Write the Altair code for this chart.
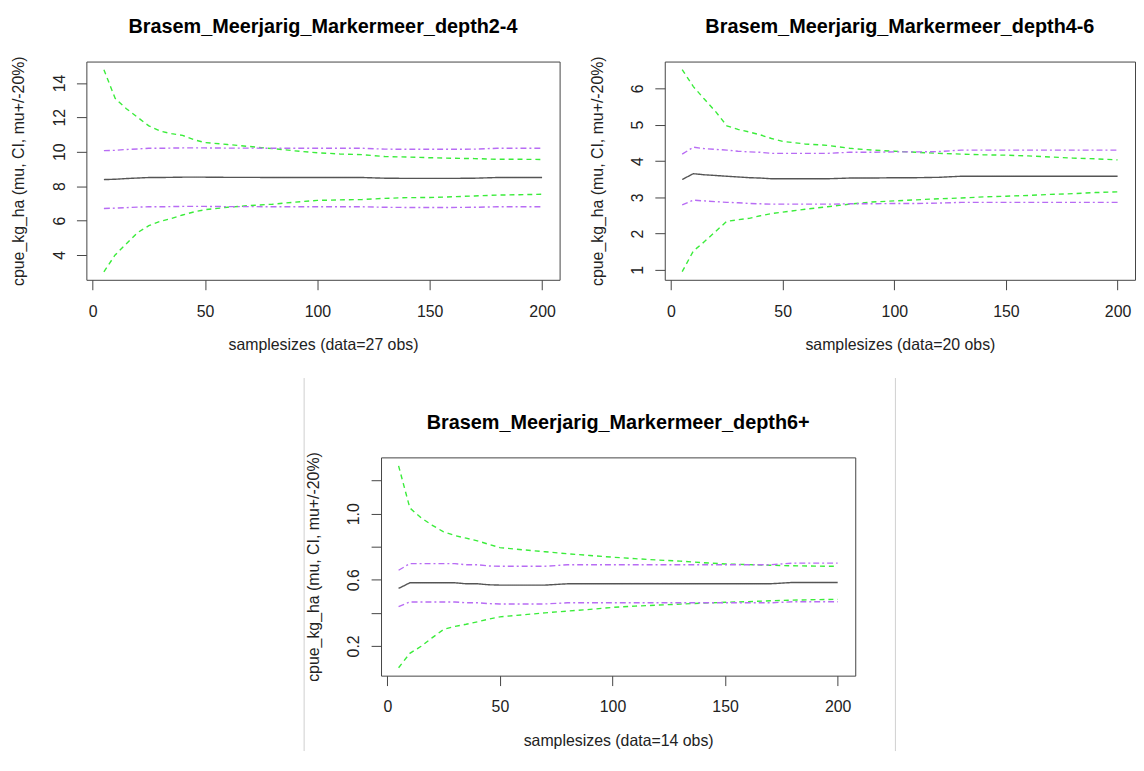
import altair as alt
import pandas as pd

FONT = "Liberation Sans"

SAMPLESIZES = [5, 10, 15, 20, 25, 30, 35, 40, 45, 50, 60, 70, 80, 90, 100,
               110, 120, 130, 140, 150, 160, 170, 180, 190, 200]

SERIES = ["mu", "ci_lo", "ci_hi", "pm_lo", "pm_hi"]

# ---- panel 1: depth2-4 ----
P1_TITLE = "Brasem_Meerjarig_Markermeer_depth2-4"
P1_XTITLE = "samplesizes (data=27 obs)"
P1_MU = [8.38, 8.40, 8.44, 8.47, 8.50, 8.50, 8.51, 8.52, 8.52, 8.52, 8.51, 8.51, 8.50,
         8.50, 8.50, 8.50, 8.50, 8.46, 8.45, 8.45, 8.45, 8.46, 8.50, 8.50, 8.50]
P1_CI_HI = [14.77, 13.10, 12.50, 12.00, 11.50, 11.20, 11.05, 10.95, 10.70, 10.53, 10.42,
            10.30, 10.18, 10.05, 9.94, 9.87, 9.83, 9.72, 9.69, 9.65, 9.62, 9.60, 9.56,
            9.56, 9.55]
P1_CI_LO = [3.02, 4.00, 4.65, 5.30, 5.70, 5.95, 6.12, 6.32, 6.50, 6.63, 6.77, 6.87, 6.95,
            7.07, 7.17, 7.20, 7.22, 7.29, 7.33, 7.34, 7.38, 7.43, 7.48, 7.50, 7.53]
P1_PM_HI = [10.06, 10.08, 10.13, 10.16, 10.20, 10.20, 10.21, 10.22, 10.22, 10.22, 10.21,
            10.21, 10.20, 10.20, 10.20, 10.20, 10.20, 10.15, 10.14, 10.14, 10.14, 10.15,
            10.20, 10.20, 10.20]
P1_PM_LO = [6.70, 6.72, 6.75, 6.78, 6.80, 6.80, 6.81, 6.82, 6.82, 6.82, 6.81, 6.81, 6.80,
            6.80, 6.80, 6.80, 6.80, 6.77, 6.76, 6.76, 6.76, 6.77, 6.80, 6.80, 6.80]
P1_YDOMAIN = [2.555, 15.24]
P1_YTICKS = [4, 6, 8, 10, 12, 14]

# ---- panel 2: depth4-6 ----
P2_TITLE = "Brasem_Meerjarig_Markermeer_depth4-6"
P2_XTITLE = "samplesizes (data=20 obs)"
P2_MU = [3.49, 3.65, 3.62, 3.60, 3.58, 3.56, 3.54, 3.53, 3.51, 3.51, 3.51, 3.51, 3.53,
         3.53, 3.54, 3.54, 3.55, 3.58, 3.58, 3.58, 3.58, 3.58, 3.58, 3.58, 3.58]
P2_CI_HI = [6.52, 6.05, 5.70, 5.36, 4.97, 4.87, 4.80, 4.72, 4.62, 4.54, 4.47, 4.43, 4.35,
            4.30, 4.27, 4.24, 4.21, 4.19, 4.17, 4.16, 4.14, 4.11, 4.08, 4.06, 4.03]
P2_CI_LO = [0.95, 1.52, 1.78, 2.06, 2.34, 2.38, 2.42, 2.49, 2.55, 2.59, 2.67, 2.74, 2.81,
            2.87, 2.90, 2.93, 2.96, 2.98, 3.01, 3.03, 3.05, 3.08, 3.10, 3.13, 3.15]
P2_PM_HI = [4.19, 4.38, 4.34, 4.32, 4.30, 4.27, 4.25, 4.24, 4.21, 4.21, 4.21, 4.21, 4.24,
            4.24, 4.25, 4.25, 4.26, 4.30, 4.30, 4.30, 4.30, 4.30, 4.30, 4.30, 4.30]
P2_PM_LO = [2.79, 2.92, 2.90, 2.88, 2.86, 2.85, 2.83, 2.82, 2.81, 2.81, 2.81, 2.81, 2.82,
            2.82, 2.83, 2.83, 2.84, 2.86, 2.86, 2.86, 2.86, 2.86, 2.86, 2.86, 2.86]
P2_YDOMAIN = [0.726, 6.74]
P2_YTICKS = [1, 2, 3, 4, 5, 6]

# ---- panel 3: depth6+ ----
P3_TITLE = "Brasem_Meerjarig_Markermeer_depth6+"
P3_XTITLE = "samplesizes (data=14 obs)"
P3_MU = [0.548, 0.582, 0.582, 0.582, 0.582, 0.582, 0.576, 0.576, 0.570, 0.568, 0.568,
         0.568, 0.576, 0.576, 0.576, 0.576, 0.576, 0.576, 0.576, 0.576, 0.576, 0.576,
         0.584, 0.584, 0.584]
P3_CI_HI = [1.29, 1.035, 0.975, 0.93, 0.89, 0.868, 0.852, 0.836, 0.815, 0.795, 0.782, 0.77,
            0.758, 0.747, 0.737, 0.728, 0.72, 0.713, 0.704, 0.696, 0.692, 0.688, 0.685,
            0.683, 0.682]
P3_CI_LO = [0.068, 0.155, 0.198, 0.25, 0.30, 0.318, 0.331, 0.346, 0.362, 0.376, 0.388, 0.40,
            0.411, 0.421, 0.433, 0.441, 0.447, 0.453, 0.459, 0.464, 0.468, 0.473, 0.477,
            0.48, 0.482]
P3_PM_HI = [0.658, 0.698, 0.698, 0.698, 0.698, 0.698, 0.691, 0.691, 0.684, 0.682, 0.682,
            0.682, 0.691, 0.691, 0.691, 0.691, 0.691, 0.691, 0.691, 0.691, 0.691, 0.691,
            0.701, 0.701, 0.701]
P3_PM_LO = [0.438, 0.466, 0.466, 0.466, 0.466, 0.466, 0.461, 0.461, 0.456, 0.454, 0.454,
            0.454, 0.461, 0.461, 0.461, 0.461, 0.461, 0.461, 0.461, 0.461, 0.461, 0.461,
            0.467, 0.467, 0.467]
P3_YDOMAIN = [0.02, 1.341]
P3_YTICKS = [0.2, 0.4, 0.6, 0.8, 1.0, 1.2]

X_TICKS = [0, 50, 100, 150, 200]
X_DOMAIN = [-2.8, 207.8]
Y_TITLE = "cpue_kg_ha (mu, CI, mu+/-20%)"

COLORS = ["#555555", "#3aec3a", "#3aec3a", "#b86cf4", "#b86cf4"]
DASHES = [[1, 0], [5, 4], [5, 4], [6, 3, 2, 3], [6, 3, 2, 3]]

W, H = 477, 220
AX = "#444444"
TXT = "#222222"


def make_df(mu, ci_lo, ci_hi, pm_lo, pm_hi):
    rows = []
    for name, vals in zip(SERIES, [mu, ci_lo, ci_hi, pm_lo, pm_hi]):
        for n, v in zip(SAMPLESIZES, vals):
            rows.append({"n": n, "v": v, "series": name})
    return pd.DataFrame(rows)


def panel_lines(xtitle, mu, ci_lo, ci_hi, pm_lo, pm_hi, ydomain, yticks, ylabelexpr, width):
    df = make_df(mu, ci_lo, ci_hi, pm_lo, pm_hi)
    xaxis = alt.Axis(values=X_TICKS, title=xtitle, grid=False, domain=False,
                     tickSize=10, tickColor=AX, tickWidth=1,
                     labelFont=FONT, labelFontSize=16, labelColor=TXT,
                     labelPadding=26.5, labelBaseline="alphabetic", labelAlign="center",
                     labelAngle=0, labelFlush=False, labelOverlap=False,
                     titleFont=FONT, titleFontSize=16, titleFontWeight="normal",
                     titleColor=TXT, titleBaseline="alphabetic", titleAlign="center",
                     titleX=width / 2, titleY=70.5)
    yaxis = alt.Axis(values=yticks, title=Y_TITLE, grid=False, domain=False,
                     tickSize=10, tickColor=AX, tickWidth=1,
                     labelFont=FONT, labelFontSize=16, labelColor=TXT,
                     labelPadding=12.5, labelBaseline="alphabetic", labelAlign="center",
                     labelAngle=270, labelFlush=False, labelOverlap=False,
                     labelExpr=ylabelexpr,
                     titleFont=FONT, titleFontSize=16, titleFontWeight="normal",
                     titleColor=TXT, titleBaseline="alphabetic", titleAlign="center",
                     titleAngle=270, titleX=-63, titleY=H / 2)
    return alt.Chart(df).mark_line(strokeWidth=1.4, clip=True).encode(
        x=alt.X("n:Q", scale=alt.Scale(domain=X_DOMAIN, nice=False, zero=False), axis=xaxis),
        y=alt.Y("v:Q", scale=alt.Scale(domain=ydomain, nice=False, zero=False), axis=yaxis),
        color=alt.Color("series:N", scale=alt.Scale(domain=SERIES, range=COLORS), legend=None),
        strokeDash=alt.StrokeDash("series:N", scale=alt.Scale(domain=SERIES, range=DASHES), legend=None),
        detail="series:N",
        order="n:Q",
    )


def title_params(text):
    return alt.TitleParams(text, font=FONT, fontSize=20, fontWeight="bold",
                           color="#000000", anchor="middle", frame="group",
                           offset=3, baseline="alphabetic")


int_expr = "format(datum.value, 'd')"
p3_expr = "(round(datum.value * 10) % 4 == 2) ? format(datum.value, '.1f') : ''"

frame_df = pd.DataFrame({"k": [0]})

# invisible guide fixing the layout bounds of the top row (left edge and bottom)
guide1 = alt.Chart(frame_df).mark_rule(color="white", opacity=0, strokeWidth=1).encode(
    x=alt.value(-78), y=alt.value(0), y2=alt.value(298))

l1 = panel_lines(P1_XTITLE, P1_MU, P1_CI_LO, P1_CI_HI, P1_PM_LO, P1_PM_HI,
                 P1_YDOMAIN, P1_YTICKS, int_expr, W)
c1 = alt.layer(l1, guide1).properties(title=title_params(P1_TITLE), width=W, height=H)

c2 = panel_lines(P2_XTITLE, P2_MU, P2_CI_LO, P2_CI_HI, P2_PM_LO, P2_PM_HI,
                 P2_YDOMAIN, P2_YTICKS, int_expr, 474).properties(
    title=title_params(P2_TITLE), width=474, height=H)

c3 = panel_lines(P3_XTITLE, P3_MU, P3_CI_LO, P3_CI_HI, P3_PM_LO, P3_PM_HI,
                 P3_YDOMAIN, P3_YTICKS, p3_expr, 478).properties(
    title=title_params(P3_TITLE), width=478, height=H)

# light grey image borders left and right of the lower panel
left_border = alt.Chart(frame_df).mark_rule(color="#cfcfcf", strokeWidth=1).encode(
    x=alt.value(219.5), y=alt.value(-80), y2=alt.value(296))
right_border = alt.Chart(frame_df).mark_rule(color="#cfcfcf", strokeWidth=1).encode(
    x=alt.value(815.5), y=alt.value(-80), y2=alt.value(296))
guide2 = alt.Chart(frame_df).mark_rule(color="white", opacity=0, strokeWidth=1).encode(
    x=alt.value(-78), y=alt.value(0), y2=alt.value(10))
spacer = alt.layer(left_border, right_border, guide2).properties(
    width=297, height=H, view=alt.ViewBackground(stroke="transparent"))

row1 = alt.hconcat(c1, c2, spacing=106, bounds="flush")
row2 = alt.hconcat(spacer, c3, spacing=0, bounds="flush")

chart = alt.vconcat(row1, row2, spacing=19, bounds="full").properties(
    padding={"left": 0, "top": 5, "right": 0, "bottom": 0},
    background="white",
).configure_view(stroke=AX, strokeWidth=1)

chart.save("out.html", embed_options={"renderer": "svg", "actions": False})
